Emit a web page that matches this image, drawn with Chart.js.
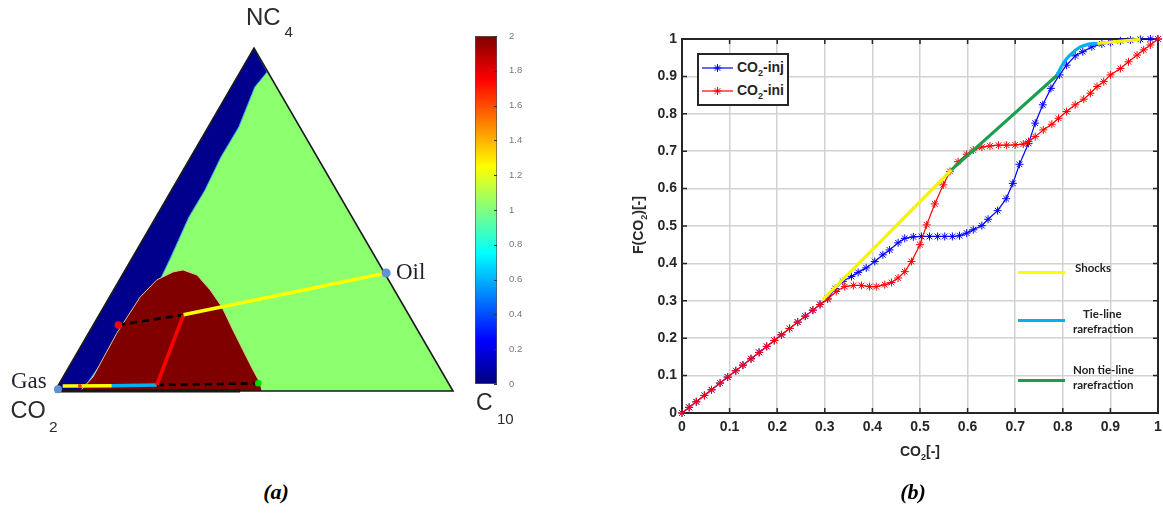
<!DOCTYPE html>
<html><head><meta charset="utf-8">
<script src="https://cdn.jsdelivr.net/npm/chart.js@4.4.1/dist/chart.umd.min.js"></script>
<style>
html,body{margin:0;padding:0;background:#fff;}
#wrap{position:relative;width:1163px;height:515px;overflow:hidden;background:#fff;}
canvas{position:absolute;}
.t{position:absolute;white-space:nowrap;line-height:1;z-index:5;}
.sans{font-family:"Liberation Sans",Arial,sans-serif;}
.serif{font-family:"Liberation Serif","Times New Roman",serif;}
.lato{font-family:Lato,"Open Sans",sans-serif;font-weight:bold;font-size:11.5px;color:#222;}
.bar{position:absolute;height:3px;z-index:5;}
</style></head><body>
<div id="wrap">
<canvas id="tern" width="470" height="450" style="left:0;top:0;width:470px;height:450px"></canvas>
<canvas id="cbar" width="100" height="385" style="left:440px;top:20px;width:100px;height:385px"></canvas>
<canvas id="frac" width="563" height="515" style="left:600px;top:0;width:563px;height:515px"></canvas>

<!-- panel (a) labels -->
<span class="t sans" style="left:246px;top:4.7px;font-size:24px;color:#2b2b2b">NC</span>
<span class="t sans" style="left:284.5px;top:24px;font-size:15px;color:#2b2b2b">4</span>
<span class="t sans" style="left:10.5px;top:398.5px;font-size:23.5px;color:#2b2b2b">CO</span>
<span class="t sans" style="left:49px;top:419px;font-size:15.5px;color:#2b2b2b">2</span>
<span class="t sans" style="left:476px;top:390.5px;font-size:23px;color:#2b2b2b">C</span>
<span class="t sans" style="left:497px;top:411px;font-size:15px;color:#2b2b2b">10</span>
<span class="t serif" style="left:11px;top:369px;font-size:23px;color:#1f1f2f">Gas</span>
<span class="t serif" style="left:396px;top:259.5px;font-size:23px;color:#1f1f2f">Oil</span>
<div class="t serif" style="left:236px;top:481px;width:80px;text-align:center;font-size:22px;font-weight:bold;font-style:italic;color:#000">(a)</div>

<!-- panel (b) labels -->
<div class="t sans" style="left:860px;top:444px;width:120px;text-align:center;font-size:14px;font-weight:bold;color:#262626">CO<span style="font-size:9px;position:relative;top:4px">2</span>[-]</div>
<div class="t sans" style="left:638px;top:225px;transform:translate(-50%,-50%) rotate(-90deg);font-size:14px;font-weight:bold;color:#262626">F(CO<span style="font-size:9px;position:relative;top:4px">2</span>)[-]</div>
<div class="t serif" style="left:873px;top:481px;width:80px;text-align:center;font-size:22px;font-weight:bold;font-style:italic;color:#000">(b)</div>

<div style="position:absolute;left:697px;top:53px;width:92px;height:53px;border:2px solid #262626;box-sizing:border-box;background:#fff;z-index:4"></div>
<svg style="position:absolute;left:702px;top:61px;z-index:5" width="32" height="14"><line x1="0" y1="7" x2="31" y2="7" stroke="#0000ff" stroke-width="1.2"/><g stroke="#0000ff" stroke-width="1"><line x1="11.5" y1="7" x2="19.5" y2="7"/><line x1="15.5" y1="3" x2="15.5" y2="11"/><line x1="12.7" y1="4.2" x2="18.3" y2="9.8"/><line x1="18.3" y1="4.2" x2="12.7" y2="9.8"/></g></svg>
<svg style="position:absolute;left:702px;top:84px;z-index:5" width="32" height="14"><line x1="0" y1="7" x2="31" y2="7" stroke="#ff0000" stroke-width="1.2"/><g stroke="#ff0000" stroke-width="1"><line x1="11.5" y1="7" x2="19.5" y2="7"/><line x1="15.5" y1="3" x2="15.5" y2="11"/><line x1="12.7" y1="4.2" x2="18.3" y2="9.8"/><line x1="18.3" y1="4.2" x2="12.7" y2="9.8"/></g></svg>
<span class="t sans" style="left:737px;top:60px;font-size:14px;font-weight:bold;color:#262626">CO<span style="font-size:9px;position:relative;top:4px">2</span>-inj</span>
<span class="t sans" style="left:737px;top:83px;font-size:14px;font-weight:bold;color:#262626">CO<span style="font-size:9px;position:relative;top:4px">2</span>-ini</span>

<div class="bar" style="left:1018px;top:270.5px;width:47px;background:#ffff00"></div>
<span class="t lato" style="left:1075px;top:261.5px">Shocks</span>
<div class="bar" style="left:1018px;top:318.5px;width:47px;background:#00b0f0"></div>
<span class="t lato" style="left:1083px;top:308px">Tie-line</span>
<span class="t lato" style="left:1073px;top:323px">rarefraction</span>
<div class="bar" style="left:1018px;top:378.5px;width:47px;background:#1a9e4f"></div>
<span class="t lato" style="left:1073px;top:364px">Non tie-line</span>
<span class="t lato" style="left:1073px;top:379px">rarefraction</span>
</div>

<script>
// ---------------- Panel (a): ternary compositions (mole fractions NC4, C10; CO2 = 1 - NC4 - C10)
const triNC4 = [0, 1, 0, 0];
const triC10 = [0, 0, 1, 0];
const baseNC4 = [0, 0];
const baseC10 = [0, 0.465];
const lowC10BandNC4 = [1.000, 0.930, 0.886, 0.770, 0.682, 0.586, 0.507, 0.391, 0.324, 0.207, 0.076, 0.000, 0.000];
const lowC10BandC10 = [0.000, 0.068, 0.059, 0.077, 0.076, 0.084, 0.083, 0.096, 0.102, 0.085, 0.075, 0.068, 0.000];
const twoPhaseNC4 = [0.000, 0.041, 0.169, 0.274, 0.324, 0.347, 0.353, 0.338, 0.295, 0.245, 0.178, 0.120, 0.061, 0.023, 0.000];
const twoPhaseC10 = [0.063, 0.075, 0.071, 0.077, 0.094, 0.123, 0.145, 0.188, 0.242, 0.297, 0.358, 0.412, 0.467, 0.504, 0.520];
const oilShockNC4 = [0.222, 0.344];   const oilShockC10 = [0.212, 0.660];
const nonTieNC4 = [0.222, 0.0175];    const nonTieC10 = [0.212, 0.247];
const tieNC4 = [0.0175, 0.0155];      const tieC10 = [0.247, 0.135];
const gasShockNC4 = [0.0155, 0.0146]; const gasShockC10 = [0.135, 0.012];
const tieLine1NC4 = [0.1925, 0.222];  const tieLine1C10 = [0.063, 0.212];
const tieLine2NC4 = [0.0175, 0.0224]; const tieLine2C10 = [0.247, 0.4997];
const gasNC4 = [0.005]; const gasC10 = [0.005];
const oilNC4 = [0.344]; const oilC10 = [0.660];
const dewNC4 = [0.1925]; const dewC10 = [0.063];
const bubNC4 = [0.0224]; const bubC10 = [0.4997];
const midNC4 = [0.0146]; const midC10 = [0.055];
// colour bar
const cbarRange = [0, 2];
const cbarTicks = [0, 0.2, 0.4, 0.6, 0.8, 1, 1.2, 1.4, 1.6, 1.8, 2];

// ---------------- Panel (b): fractional flow
const injX = [0,0.015,0.030,0.047,0.062,0.080,0.096,0.113,0.128,0.145,0.162,0.178,0.194,0.209,0.226,0.243,0.259,0.275,0.290,0.306,0.322,0.338,0.356,0.370,0.387,0.405,0.422,0.436,0.454,0.468,0.486,0.503,0.520,0.537,0.552,0.568,0.583,0.598,0.612,0.630,0.643,0.663,0.681,0.695,0.709,0.728,0.742,0.758,0.775,0.793,0.808,0.826,0.842,0.861,0.882,0.900,0.921,0.942,0.963,0.984,1.000];
const injY = [0,0.015,0.030,0.047,0.062,0.080,0.096,0.113,0.128,0.145,0.162,0.178,0.194,0.209,0.226,0.243,0.259,0.275,0.290,0.305,0.333,0.352,0.365,0.376,0.388,0.405,0.423,0.436,0.455,0.467,0.471,0.472,0.472,0.472,0.472,0.472,0.474,0.481,0.490,0.501,0.518,0.541,0.573,0.614,0.665,0.721,0.775,0.824,0.868,0.904,0.930,0.955,0.966,0.979,0.987,0.991,0.995,0.997,0.999,1.000,1.000];
const iniX = [0,0.015,0.030,0.047,0.062,0.080,0.096,0.113,0.128,0.145,0.162,0.178,0.194,0.209,0.226,0.243,0.259,0.275,0.290,0.306,0.324,0.342,0.360,0.377,0.394,0.408,0.426,0.440,0.454,0.468,0.482,0.500,0.514,0.531,0.549,0.563,0.580,0.598,0.612,0.630,0.647,0.665,0.682,0.700,0.717,0.728,0.742,0.759,0.777,0.791,0.808,0.826,0.844,0.858,0.872,0.886,0.900,0.921,0.938,0.956,0.970,0.984,1.000];
const iniY = [0,0.015,0.030,0.047,0.062,0.080,0.096,0.113,0.128,0.145,0.162,0.178,0.194,0.209,0.226,0.243,0.259,0.275,0.290,0.305,0.325,0.338,0.341,0.341,0.338,0.338,0.343,0.349,0.361,0.378,0.405,0.450,0.503,0.559,0.610,0.646,0.672,0.692,0.703,0.711,0.714,0.716,0.716,0.717,0.719,0.726,0.739,0.757,0.772,0.788,0.806,0.824,0.839,0.855,0.873,0.886,0.904,0.921,0.939,0.957,0.971,0.984,1.000];
const shockX = [0.296, 0.566];  const shockY = [0.303, 0.650];
const nonTieX = [0.566, 0.788]; const nonTieY = [0.650, 0.903];
const tieX = [0.788, 0.801, 0.815, 0.836, 0.857, 0.873];
const tieY = [0.903, 0.935, 0.957, 0.978, 0.987, 0.988];
const shock2X = [0.873, 0.963]; const shock2Y = [0.988, 0.999];
const fracTicks = [0, 0.1, 0.2, 0.3, 0.4, 0.5, 0.6, 0.7, 0.8, 0.9, 1];

// ---------------- helpers
Chart.defaults.font.family = '"Liberation Sans", Arial, sans-serif';
const H = Math.sqrt(3) / 2;
const tern = (nc4, c10) => nc4.map((n, i) => ({x: c10[i] + n / 2, y: n * H}));
const xy = (xs, ys) => xs.map((v, i) => ({x: v, y: ys[i]}));
const fmt = v => String(Math.round(v * 10) / 10);
const JET = [[0, '#000080'], [0.125, '#0000ff'], [0.375, '#00ffff'], [0.625, '#ffff00'], [0.875, '#ff0000'], [1, '#800000']];

const poly = (data, color, order, border) => ({data, showLine: true, fill: 'shape', backgroundColor: color,
  borderColor: border || 'transparent', borderWidth: border ? 1 : 0, pointRadius: 0, order, tension: 0});
const seg = (data, color, width, order, dash) => ({data, showLine: true, fill: false, borderColor: color,
  borderWidth: width, pointRadius: 0, order, borderDash: dash || [], clip: 8, borderCapStyle: 'butt'});
const dot = (data, color, r, order) => ({data, showLine: false, pointRadius: r, pointBackgroundColor: color,
  pointBorderColor: color, borderWidth: 0, order, clip: 10});

new Chart(document.getElementById('tern'), {
  type: 'scatter',
  data: {datasets: [
    poly(tern(triNC4, triC10), 'rgb(140,255,110)', 9),
    poly(tern(lowC10BandNC4, lowC10BandC10), '#00008c', 8, '#3aa6ff'),
    poly(tern(twoPhaseNC4, twoPhaseC10), '#800000', 7, '#d9c98a'),
    seg(tern(triNC4, triC10), '#1a1a1a', 1.6, 6),
    seg(tern(baseNC4, baseC10), '#111', 3, 6),
    seg(tern(tieLine1NC4, tieLine1C10), '#000', 2.6, 5, [7, 5]),
    seg(tern(tieLine2NC4, tieLine2C10), '#000', 2.6, 5, [7, 5]),
    seg(tern(oilShockNC4, oilShockC10), '#ffff00', 3.6, 4),
    seg(tern(nonTieNC4, nonTieC10), '#ff0000', 3.6, 4),
    seg(tern(tieNC4, tieC10), '#00b0f0', 3.6, 4),
    seg(tern(gasShockNC4, gasShockC10), '#ffff00', 3.6, 4),
    dot(tern(oilNC4, oilC10), '#5b93d3', 4.5, 1),
    dot(tern(gasNC4, gasC10), '#5b93d3', 4, 1),
    dot(tern(dewNC4, dewC10), '#ff0000', 3.8, 1),
    dot(tern(bubNC4, bubC10), '#00e000', 3.3, 1),
    dot(tern(midNC4, midC10), '#ff3a00', 2, 1)
  ]},
  options: {
    responsive: false, animation: false,
    layout: {padding: {left: 55, right: 17, top: 48, bottom: 59}},
    plugins: {legend: {display: false}, tooltip: {enabled: false}},
    scales: {x: {type: 'linear', min: 0, max: 1, display: false},
             y: {type: 'linear', min: 0, max: H, display: false}}
  }
});

new Chart(document.getElementById('cbar'), {
  type: 'bar',
  data: {labels: [''], datasets: [{
    data: [cbarRange],
    barPercentage: 1, categoryPercentage: 1, borderSkipped: false,
    borderWidth: 1, borderColor: '#555',
    backgroundColor: (c) => {
      const a = c.chart.chartArea; if (!a) return '#888';
      const g = c.chart.ctx.createLinearGradient(0, a.bottom, 0, a.top);
      JET.forEach(s => g.addColorStop(s[0], s[1]));
      return g;
    }
  }]},
  options: {
    responsive: false, animation: false,
    layout: {padding: {left: 35, right: 13, top: 16, bottom: 21}},
    plugins: {legend: {display: false}, tooltip: {enabled: false}},
    scales: {
      x: {display: false},
      y: {position: 'right', min: cbarRange[0], max: cbarRange[1],
          afterBuildTicks: s => { s.ticks = cbarTicks.map(v => ({value: v})); },
          ticks: {font: {size: 9.5}, color: '#777', padding: 4, callback: fmt},
          grid: {display: false}, border: {display: false},
          afterFit: s => { s.width = 30; s.paddingTop = 0; s.paddingBottom = 0; }}
    }
  },
  plugins: [{id: 'cbTicks', afterDraw(chart) {
    const {ctx, chartArea: a, scales: {y}} = chart;
    ctx.save(); ctx.strokeStyle = '#333'; ctx.lineWidth = 1; ctx.beginPath();
    y.ticks.forEach(t => { const p = Math.round(y.getPixelForValue(t.value)) + 0.5; ctx.moveTo(a.right - 3, p); ctx.lineTo(a.right, p); });
    ctx.stroke(); ctx.restore();
  }}]
});

const boxPlugin = {id: 'box', beforeDatasetsDraw(chart) {
  const {ctx, chartArea: a, scales: {x, y}} = chart;
  ctx.save(); ctx.strokeStyle = '#262626'; ctx.lineWidth = 2;
  ctx.strokeRect(a.left, a.top, a.right - a.left, a.bottom - a.top);
  ctx.lineWidth = 1.5; ctx.beginPath();
  x.ticks.forEach(t => { const p = x.getPixelForValue(t.value);
    ctx.moveTo(p, a.bottom); ctx.lineTo(p, a.bottom - 5); ctx.moveTo(p, a.top); ctx.lineTo(p, a.top + 5); });
  y.ticks.forEach(t => { const p = y.getPixelForValue(t.value);
    ctx.moveTo(a.left, p); ctx.lineTo(a.left + 5, p); ctx.moveTo(a.right, p); ctx.lineTo(a.right - 5, p); });
  ctx.stroke(); ctx.restore();
}};

const tickFont = {size: 14, weight: 'bold', family: '"Liberation Sans", Arial, sans-serif'};
const series = (data, color, order) => ({data, showLine: true, borderColor: color, borderWidth: 1.2,
  pointStyle: 'star', pointRadius: 4, pointBorderColor: color, pointBackgroundColor: color,
  pointBorderWidth: 1, order, clip: false, tension: 0});
const over = (data, color, order) => ({data, showLine: true, borderColor: color, borderWidth: 3.2,
  pointRadius: 0, order, clip: false, tension: 0.3, borderCapStyle: 'butt'});

new Chart(document.getElementById('frac'), {
  type: 'scatter',
  data: {datasets: [
    over(xy(shockX, shockY), '#f5f500', 1),
    over(xy(nonTieX, nonTieY), '#1a9e4f', 1),
    over(xy(tieX, tieY), '#00b0f0', 1),
    over(xy(shock2X, shock2Y), '#f5f500', 0),
    series(xy(iniX, iniY), '#ff0000', 2),
    series(xy(injX, injY), '#0000ff', 3)
  ]},
  options: {
    responsive: false, animation: false,
    layout: {padding: {left: 22, right: 5, top: 39, bottom: 82}},
    plugins: {legend: {display: false}, tooltip: {enabled: false}},
    scales: {
      x: {type: 'linear', min: 0, max: 1,
          afterBuildTicks: s => { s.ticks = fracTicks.map(v => ({value: v})); },
          ticks: {font: tickFont, color: '#262626', padding: 6, autoSkip: false, maxRotation: 0, callback: fmt},
          grid: {color: '#d2d2d2', lineWidth: 1.5, drawTicks: false}, border: {display: false},
          afterFit: s => { s.height = 20; s.paddingLeft = 0; s.paddingRight = 0; }},
      y: {type: 'linear', min: 0, max: 1,
          afterBuildTicks: s => { s.ticks = fracTicks.map(v => ({value: v})); },
          ticks: {font: tickFont, color: '#262626', padding: 5, autoSkip: false, callback: fmt},
          grid: {color: '#d2d2d2', lineWidth: 1.5, drawTicks: false}, border: {display: false},
          afterFit: s => { s.width = 60; s.paddingTop = 0; s.paddingBottom = 0; }}
    }
  },
  plugins: [boxPlugin]
});
</script>
</body></html>
